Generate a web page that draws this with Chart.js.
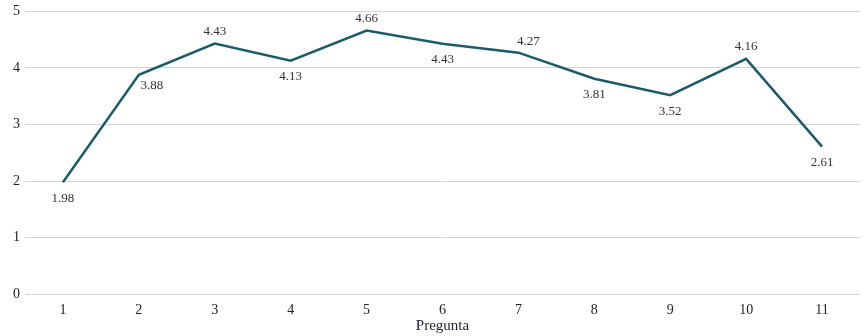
<!DOCTYPE html>
<html>
<head>
<meta charset="utf-8">
<script src="https://cdn.jsdelivr.net/npm/chart.js@4"></script>
<style>
  html, body { margin: 0; padding: 0; background: #fff; }
  #wrap { width: 864px; height: 336px; }
</style>
</head>
<body>
<div id="wrap"><canvas id="chart" width="864" height="336"></canvas></div>
<script>
// data
const preguntas = ['1', '2', '3', '4', '5', '6', '7', '8', '9', '10', '11'];
const promedios = [1.98, 3.88, 4.43, 4.13, 4.66, 4.43, 4.27, 3.81, 3.52, 4.16, 2.61];
const yTicks = [0, 1, 2, 3, 4, 5];

// where each value label sits relative to its point
const labelPlace = ['below', 'belowRight', 'above', 'below', 'above', 'below', 'aboveRight', 'below', 'below', 'above', 'below'];

const fontFamily = "'Liberation Serif', 'DejaVu Serif', serif";

// small plugin to write the values next to the points
const valueLabels = {
  id: 'valueLabels',
  afterDatasetsDraw(chart) {
    const ctx = chart.ctx;
    const meta = chart.getDatasetMeta(0);
    ctx.save();
    ctx.font = '13px ' + fontFamily;
    ctx.fillStyle = '#3a3030';
    ctx.textAlign = 'center';
    ctx.textBaseline = 'middle';
    meta.data.forEach((pt, i) => {
      let dx = 0, dy = 0;
      switch (labelPlace[i]) {
        case 'above': dy = -12; break;
        case 'below': dy = 16; break;
        case 'belowRight': dx = 13; dy = 11; break;
        case 'aboveRight': dx = 10; dy = -11; break;
      }
      ctx.fillText(promedios[i].toFixed(2), pt.x + dx, pt.y + dy);
    });
    ctx.restore();
  }
};

const ctx = document.getElementById('chart').getContext('2d');
new Chart(ctx, {
  type: 'line',
  data: {
    labels: preguntas,
    datasets: [{
      label: 'Promedio',
      data: promedios,
      borderColor: '#1b5c6c',
      borderWidth: 2.5,
      pointRadius: 0,
      tension: 0,
      fill: false
    }]
  },
  options: {
    responsive: false,
    animation: false,
    layout: { padding: { top: 0, right: 4, left: 8, bottom: 1 } },
    plugins: {
      legend: { display: false },
      tooltip: { enabled: false }
    },
    scales: {
      x: {
        offset: true,
        grid: { display: false, drawTicks: false },
        border: { display: false },
        ticks: { color: '#222', font: { family: fontFamily, size: 14 }, padding: 8 },
        title: {
          display: true,
          text: 'Pregunta',
          color: '#2a2030',
          font: { family: fontFamily, size: 15 },
          padding: { top: -10, bottom: 0 }
        }
      },
      y: {
        min: 0,
        max: 5,
        afterBuildTicks(axis) {
          axis.ticks = yTicks.map(v => ({ value: v }));
        },
        afterFit(axis) {
          axis.paddingTop = Math.max(0, axis.paddingTop - 2);
        },
        grid: { color: '#d4d4d4', lineWidth: 1, drawTicks: false },
        border: { display: false },
        ticks: { color: '#222', font: { family: fontFamily, size: 14 }, padding: 5 }
      }
    }
  },
  plugins: [valueLabels]
});
</script>
</body>
</html>
